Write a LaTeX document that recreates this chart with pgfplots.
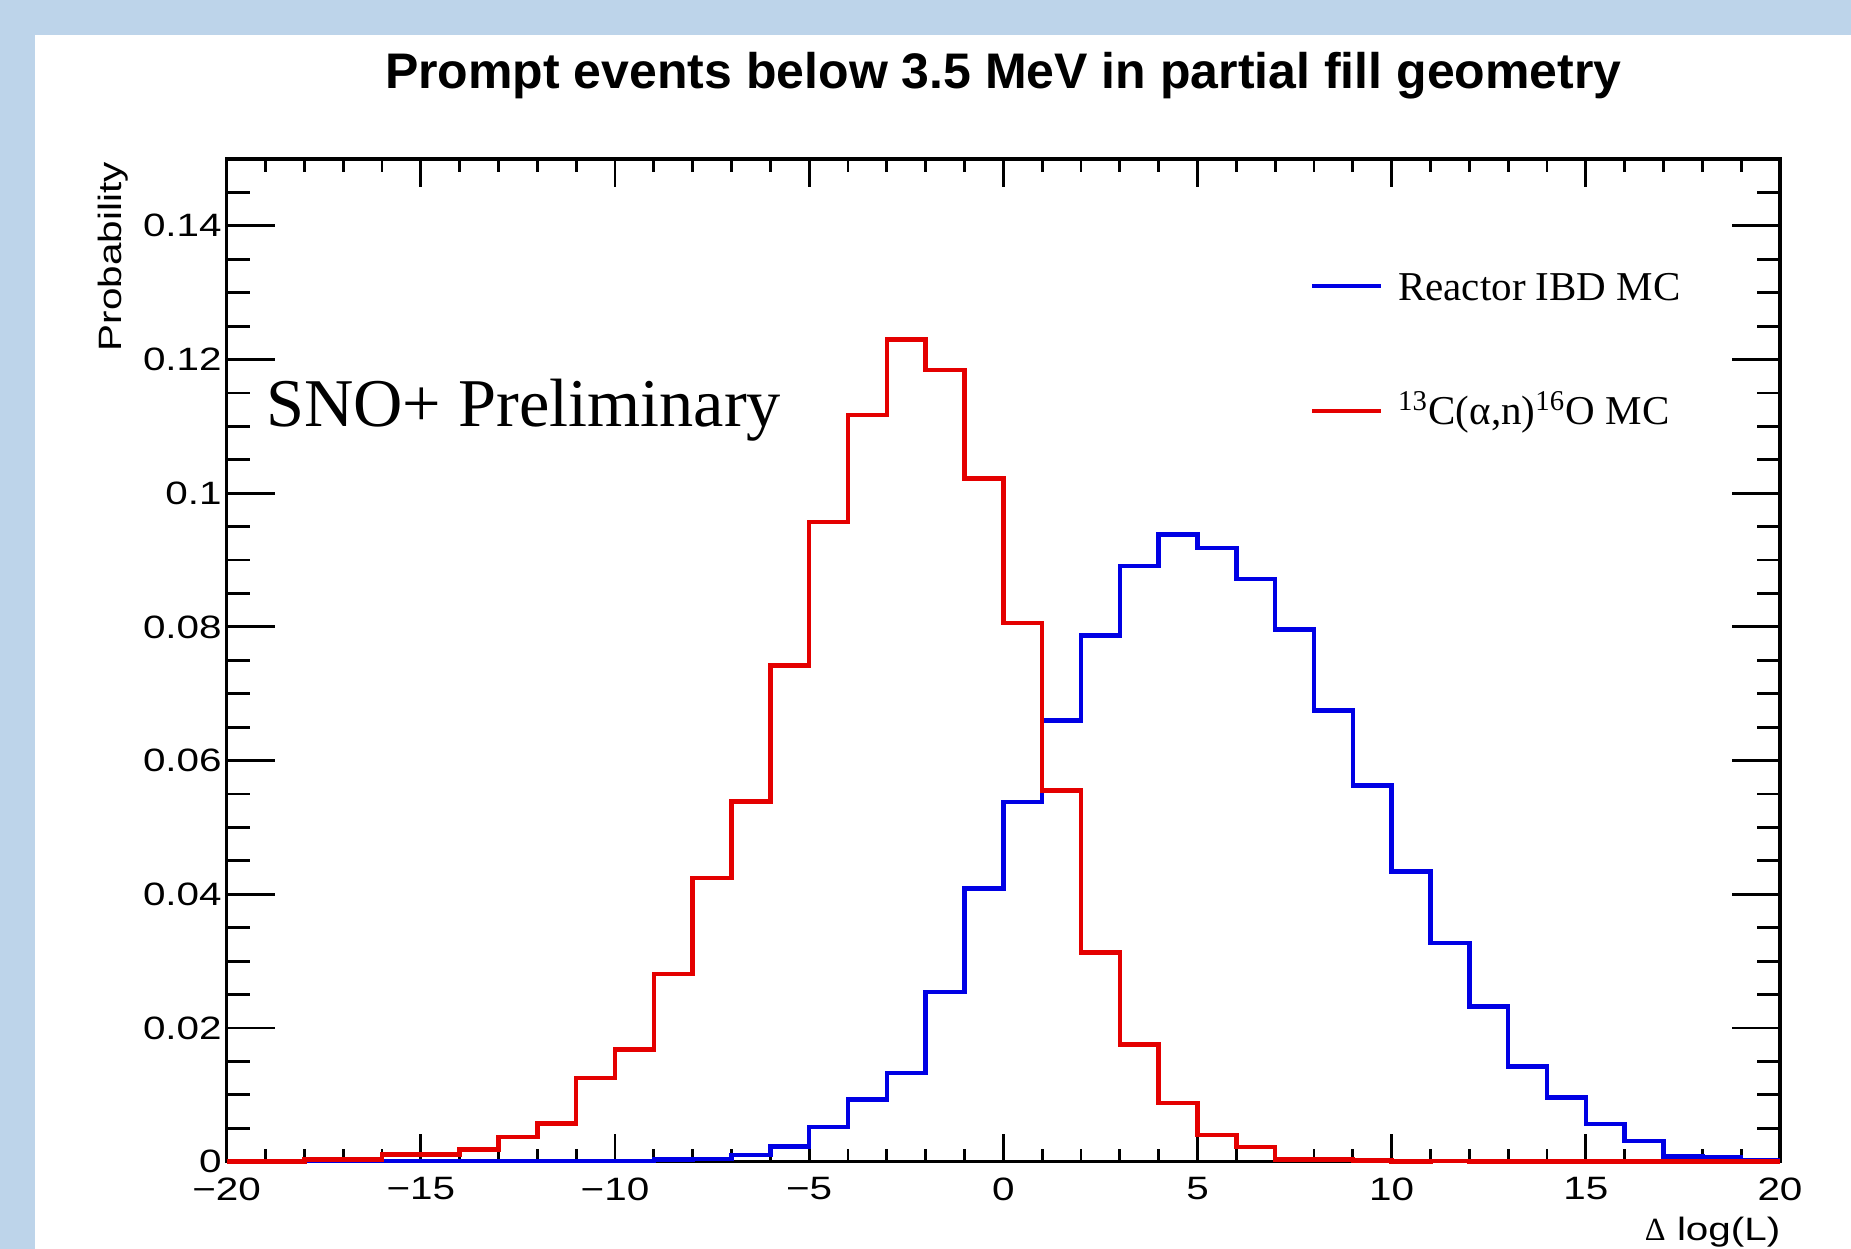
\documentclass[border=0pt]{standalone}
\usepackage{pgfplots}
\pgfplotsset{compat=1.18}
\usepackage{fontspec}
\setmainfont{Liberation Serif}
\newfontfamily\sansw[FakeStretch=1.25]{Liberation Sans}
\newfontfamily\titlefont{Liberation Sans}
\definecolor{bgblue}{RGB}{189,212,234}
\definecolor{ibdblue}{RGB}{0,0,228}
\definecolor{anred}{RGB}{228,0,0}
\newcommand{\tickfont}{\sansw\fontsize{9.7}{11}\selectfont}

\pgfplotstableread{
x y
-20 0
-19 0
-18 0.0001
-17 0.0001
-16 0.0001
-15 0.0001
-14 0.0001
-13 0.0001
-12 0.0001
-11 0.0001
-10 0.0001
-9 0.0003
-8 0.0004
-7 0.0010
-6 0.00225
-5 0.0052
-4 0.0093
-3 0.0133
-2 0.0254
-1 0.0409
0 0.0538
1 0.0660
2 0.0787
3 0.0891
4 0.0938
5 0.0918
6 0.0872
7 0.0796
8 0.0675
9 0.0563
10 0.0434
11 0.0327
12 0.0232
13 0.0142
14 0.0096
15 0.0056
16 0.0031
17 0.0008
18 0.0006
19 0.0002
20 0.0002
}\ibd

\pgfplotstableread{
x y
-20 0
-19 0
-18 0.0003
-17 0.0003
-16 0.0011
-15 0.0011
-14 0.0018
-13 0.0037
-12 0.0057
-11 0.0125
-10 0.0168
-9 0.0281
-8 0.0424
-7 0.0539
-6 0.0742
-5 0.0957
-4 0.1117
-3 0.1230
-2 0.1184
-1 0.1022
0 0.0806
1 0.0555
2 0.0313
3 0.0175
4 0.0088
5 0.0040
6 0.0022
7 0.0003
8 0.0003
9 0.00015
10 0
11 0.0001
12 0
13 0
14 0
15 0
16 0
17 0
18 0
19 0
20 0
}\alphan

\begin{document}
\begin{tikzpicture}[x=1pt,y=1pt]
\fill[bgblue] (0,0) rectangle (555.3,374.7);
\fill[white] (10.5,0) rectangle (555.3,364.2);
\node[anchor=base, inner sep=0pt, font=\titlefont\bfseries\fontsize{15}{18}\selectfont] at (301,348.2) {Prompt events below 3.5 MeV in partial fill geometry};
\begin{axis}[
  at={(68pt,26.2pt)}, anchor=south west,
  scale only axis, width=466pt, height=300.8pt,
  xmin=-20, xmax=20, ymin=0, ymax=0.15,
  clip=false,
  axis line style={line width=0.95pt, black},
  tick style={line width=0.85pt, black},
  tick align=inside, tick pos=both,
  xtick={-20,-15,-10,-5,0,5,10,15,20},
  xticklabels={−20,−15,−10,−5,0,5,10,15,20},
  minor xtick={-20,-19,...,20},
  ytick={0,0.02,0.04,0.06,0.08,0.1,0.12,0.14},
  yticklabels={0,0.02,0.04,0.06,0.08,0.1,0.12,0.14},
  minor ytick={0,0.005,0.01,0.015,0.02,0.025,0.03,0.035,0.04,0.045,0.05,0.055,0.06,0.065,0.07,0.075,0.08,0.085,0.09,0.095,0.1,0.105,0.11,0.115,0.12,0.125,0.13,0.135,0.14,0.145},
  xtick style={/pgfplots/major tick length=8.4pt, /pgfplots/minor tick length=3.9pt},
  ytick style={/pgfplots/major tick length=14.4pt, /pgfplots/minor tick length=6.9pt},
  xticklabel style={font=\tickfont, anchor=north, inner sep=0pt, yshift=-4.6pt},
  yticklabel style={font=\tickfont, anchor=east, inner sep=0pt, xshift=-1.3pt},
  legend style={draw=none, fill=none, at={(rel axis cs:0.697,0.811)}, anchor=west,
     inner sep=0pt, row sep=25.8pt, column sep=4.5pt,
     font=\fontsize{12.3}{14}\selectfont,
     nodes={inner sep=0pt, text height=10pt, text depth=1.6pt}},
  legend cell align=left,
  legend image code/.code={\draw[#1] (0pt,0pt) -- (20.6pt,0pt);},
]
\addplot[const plot, no marks, color=ibdblue, line width=1.35pt] table[x=x,y=y] {\ibd};
\addlegendentry{Reactor IBD MC}
\addplot[const plot, no marks, color=anred, line width=1.35pt] table[x=x,y=y] {\alphan};
\addlegendentry{\textsuperscript{13}C(α,n)\textsuperscript{16}O MC}
\node[anchor=base west, inner sep=0pt, font=\fontsize{20.5}{24}\selectfont] at (axis cs:-19.0,0.110) {SNO+ Preliminary};
\end{axis}
\node[rotate=90, anchor=base east, inner sep=0pt, font=\tickfont] at (36.5,326.2) {Probability};
\node[anchor=base east, inner sep=0pt, font=\tickfont] at (534.3,2.4) {{\rmfamily Δ} log(L)};
\pgfresetboundingbox
\useasboundingbox (0,0) rectangle (555.3,374.7);
\end{tikzpicture}
\end{document}
